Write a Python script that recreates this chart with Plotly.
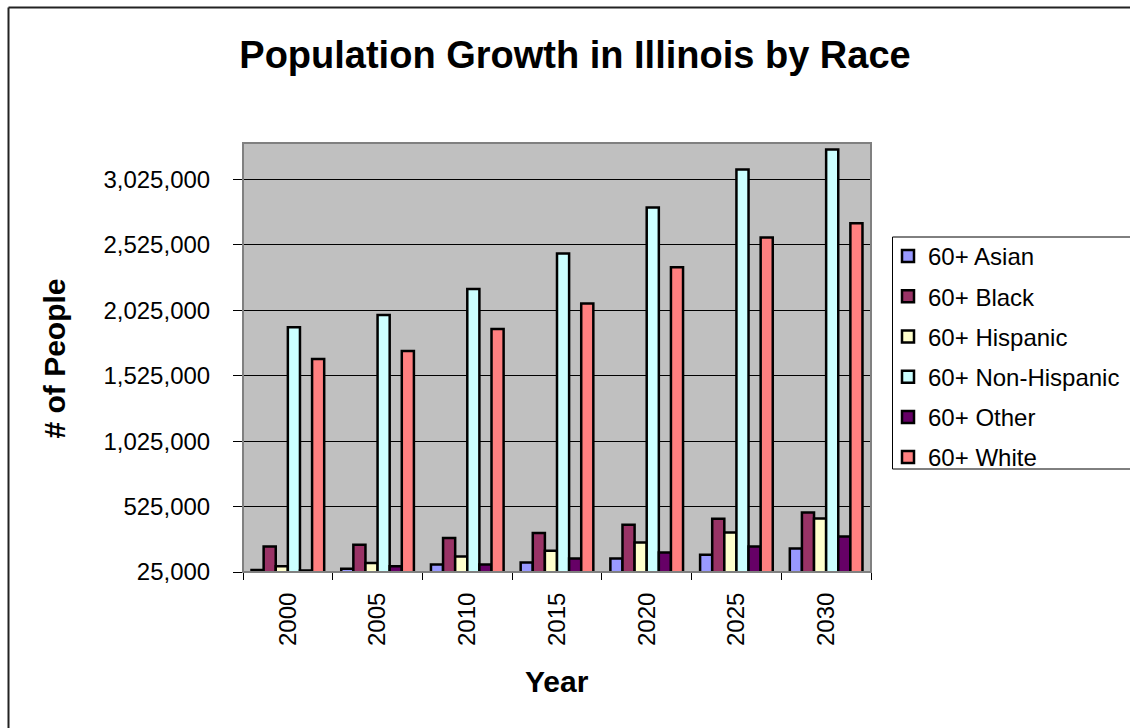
import plotly.graph_objects as go

years = ["2000", "2005", "2010", "2015", "2020", "2025", "2030"]
series_names = ["60+ Asian", "60+ Black", "60+ Hispanic", "60+ Non-Hispanic", "60+ Other", "60+ White"]
asian = [40000, 50000, 83000, 98000, 129000, 157000, 205000]
black = [220000, 233000, 285000, 323000, 386000, 432000, 480000]
hispanic = [68000, 94000, 144000, 188000, 251000, 327000, 434000]
non_hispanic = [1895000, 1989000, 2188000, 2460000, 2811000, 3101000, 3254000]
other = [37000, 68000, 83000, 129000, 175000, 220000, 297000]
white = [1653000, 1714000, 1882000, 2078000, 2355000, 2582000, 2691000]
colors = ["#9999FF", "#993366", "#FFFFCC", "#CCFFFF", "#660066", "#FF8080"]
tick_vals = [25000, 525000, 1025000, 1525000, 2025000, 2525000, 3025000]
tick_text = ["25,000", "525,000", "1,025,000", "1,525,000", "2,025,000", "2,525,000", "3,025,000"]

FONT = "Liberation Sans, Arial, sans-serif"
all_series = [asian, black, hispanic, non_hispanic, other, white]

W, H = 1130, 728
L, R, T, B = 243, 871, 143, 572
pw, ph = R - L, B - T

def px(x):
    return (x - L) / pw

def py(y):
    return (B - y) / ph

fig = go.Figure()
for name, vals, col in zip(series_names, all_series, colors):
    fig.add_trace(go.Bar(
        x=years, y=vals, name=name, legendgroup=name,
        marker=dict(color=col, line=dict(color="black", width=2.5)),
    ))

fig.update_layout(
    width=W, height=H,
    margin=dict(l=L, r=W - R, t=T, b=H - B, autoexpand=False),
    paper_bgcolor="white",
    plot_bgcolor="#C0C0C0",
    barmode="group",
    bargap=0.19,
    bargroupgap=0,
    font=dict(family=FONT, color="black", size=24),
    title=dict(text="<b>Population Growth in Illinois by Race</b>",
               x=575 / W, xanchor="center", y=1 - 55 / H, yanchor="middle",
               font=dict(size=38, family=FONT, color="black")),
    showlegend=True,
    legend=dict(x=px(888), xanchor="left", y=py(234), yanchor="top",
                bgcolor="rgba(0,0,0,0)", borderwidth=0,
                font=dict(size=24, family=FONT),
                traceorder="grouped", tracegroupgap=6),
    xaxis=dict(type="category", ticks="outside", ticklen=7, tickwidth=1,
               tickcolor="black", tickson="boundaries", tickangle=-90,
               showline=True, linecolor="black", linewidth=1,
               showgrid=False, ticklabelstandoff=10,
               tickfont=dict(size=24, family=FONT)),
    yaxis=dict(range=[25000, 3304000], tickvals=tick_vals, ticktext=tick_text,
               ticks="outside", ticklen=9, tickcolor="black", tickwidth=1,
               showline=True, linecolor="#404040", linewidth=1,
               showgrid=True, gridcolor="black", gridwidth=1,
               zeroline=False, ticklabelstandoff=18,
               tickfont=dict(size=24, family=FONT)),
)

# plot-area border
fig.add_shape(type="rect", xref="paper", yref="paper", x0=0, y0=0, x1=1, y1=1,
              line=dict(color="#808080", width=2), layer="above")
# outer chart border (right and bottom edges fall outside the picture)
fig.add_shape(type="line", xref="paper", yref="paper",
              x0=px(8.5), y0=py(7.5), x1=px(1140), y1=py(7.5),
              line=dict(color="#222222", width=2))
fig.add_shape(type="line", xref="paper", yref="paper",
              x0=px(8.5), y0=py(7.5), x1=px(8.5), y1=py(740),
              line=dict(color="#222222", width=2))
# legend box (open on the right, where it leaves the picture)
for (xa, ya, xb, yb) in [(892.5, 237, 1140, 237), (892.5, 469, 1140, 469), (892.5, 237, 892.5, 469)]:
    fig.add_shape(type="line", xref="paper", yref="paper",
                  x0=px(xa), y0=py(ya), x1=px(xb), y1=py(yb),
                  line=dict(color="black", width=1))

fig.add_annotation(text="<b>Year</b>", xref="paper", yref="paper",
                   x=px(557), y=py(681), xanchor="center", yanchor="middle",
                   showarrow=False, font=dict(size=30, family=FONT))
fig.add_annotation(text="<b># of People</b>", xref="paper", yref="paper",
                   x=px(54), y=py(358.5), xanchor="center", yanchor="middle",
                   textangle=-90, showarrow=False, font=dict(size=30, family=FONT))

fig.write_html("out.html")
